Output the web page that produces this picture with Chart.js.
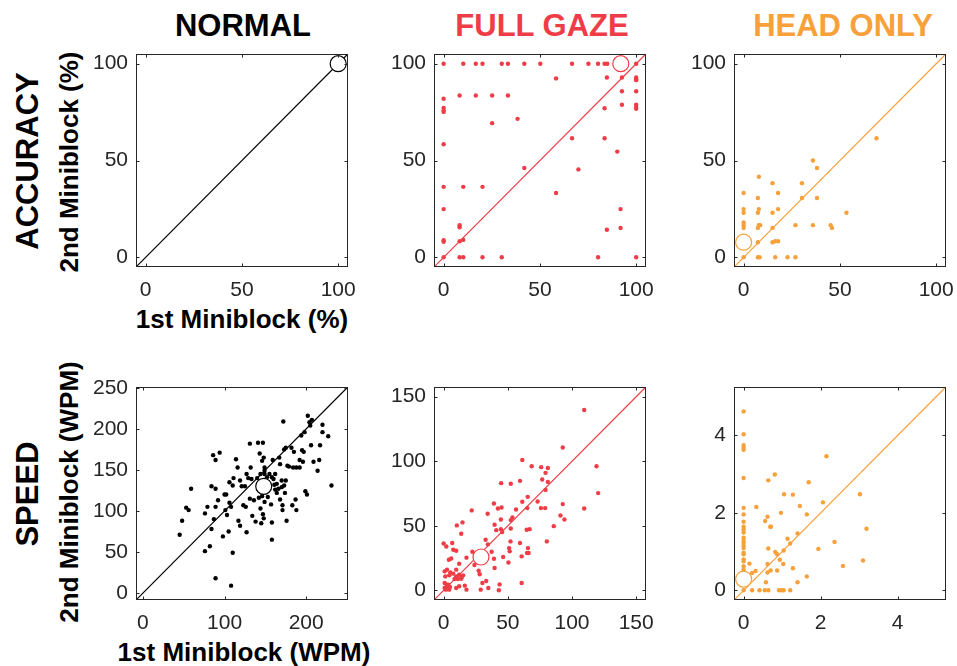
<!DOCTYPE html>
<html lang="en">
<head>
  <meta charset="UTF-8" />
  <title>Miniblock comparison</title>
  <script src="https://cdn.jsdelivr.net/npm/chart.js"></script>
  <style>
    body { margin: 0; background: #fff; }
    #fig { position: relative; width: 957px; height: 666px; overflow: hidden; background: #fff; }
    #fig canvas { position: absolute; }
    .lbl {
      position: absolute;
      font-family: 'Liberation Sans', Arial, sans-serif;
      font-weight: bold;
      white-space: nowrap;
      line-height: 1;
      color: #000;
      transform: translate(-50%, -50%);
    }
    .rot { transform: translate(-50%, -50%) rotate(-90deg); }
    .head { font-size: 31px; }
    .axt { font-size: 26px; }
  </style>
</head>
<body>
  <div id="fig">
    <div class="lbl head" style="left:243px; top:25px;">NORMAL</div>
    <div class="lbl head" style="left:542px; top:25px; color:#EE3D46;">FULL GAZE</div>
    <div class="lbl head" style="left:843px; top:25px; color:#F8A03A;">HEAD ONLY</div>
    <div class="lbl head rot" style="left:27px; top:161px;">ACCURACY</div>
    <div class="lbl head rot" style="left:27px; top:494px;">SPEED</div>
    <div class="lbl axt rot" style="left:69px; top:162px;">2nd Miniblock (%)</div>
    <div class="lbl axt rot" style="left:69px; top:492px;">2nd Miniblock (WPM)</div>
    <div class="lbl axt" style="left:242px; top:319px;">1st Miniblock (%)</div>
    <div class="lbl axt" style="left:244px; top:652px;">1st Miniblock (WPM)</div>

    <canvas id="c1" width="281" height="268" style="left:76px; top:44px;"></canvas>
    <canvas id="c2" width="281" height="268" style="left:374px; top:44px;"></canvas>
    <canvas id="c3" width="281" height="268" style="left:674px; top:44px;"></canvas>
    <canvas id="c4" width="281" height="268" style="left:76px; top:377px;"></canvas>
    <canvas id="c5" width="281" height="268" style="left:374px; top:377px;"></canvas>
    <canvas id="c6" width="281" height="268" style="left:674px; top:377px;"></canvas>
  </div>

  <script>
    const BLACK = '#000000';
    const RED = '#EE3D46';
    const ORANGE = '#F8A03A';

    // tick labels
    const accTicks = [0, 50, 100];
    const normSpeedTicksX = [0, 100, 200];
    const normSpeedTicksY = [0, 50, 100, 150, 200, 250];
    const gazeSpeedTicks = [0, 50, 100, 150];
    const headSpeedTicks = [0, 2, 4];

    // accuracy (%), 1st vs 2nd miniblock
    const normalAccX = [100];
    const normalAccY = [100];
    const normalAccMean = [100, 100];

    const gazeAccX = [0, 10.2, 16.7, 20.2, 30.2, 33.4, 41.9, 50.2, 66.7, 75.2, 80.2, 83.6, 85, 100,
      58.4, 84.8, 92.6, 100, 100, 100, 92.6, 100, 8.3, 16.7, 25.2, 33.4, 0,
      92.6, 100, 100, 100, 0, 0, 0,
      83.6, 38.4, 25.2, 66.7, 83.6, 0, 90.2, 41.9, 70.0,
      0, 10.2, 20.2, 58.4, 0, 91.9, 8.3, 8.3, 91.9, 84.8, 0, 0, 8.3, 10.2,
      0, 8.3, 10.2, 20.2, 30.2, 80.2, 100];
    const gazeAccY = [100, 100, 100, 100, 100, 100, 100, 100, 100, 100, 100, 100, 100, 100,
      92.4, 92.9, 92.9, 92.9, 92, 91.5, 85.8, 85.8, 83.6, 83.6, 83.6, 83.6, 81.9,
      78.8, 78.8, 77.6, 76.7, 77.2, 75.8, 75.1,
      77.0, 71.5, 69.3, 61.5, 61.5, 58.4, 54.6, 46.1, 45.4,
      36.4, 36.4, 36.4, 33.2, 24.9, 24.9, 16.6, 15.5, 15.2, 14.2, 8.8, 8.0, 8.3, 9.0,
      0, 0, 0, 0, 0, 0, 0];
    const gazeAccMean = [92, 100];

    const headAccX = [69.0, 36.0, 38.1, 7.9, 15.0, 30.3, 0, 17.9, 7.4, 30.3, 38.1, 0, 7.9, 17.9,
      0, 7.4, 15.0, 53.4, 0, 0, 0, 7.9, 8.6, 7.4, 15.0, 26.9, 36.0, 45.2, 45.9,
      7.4, 15.0, 16.4, 17.9, 0, 7.4, 8.3, 16.4, 22.8, 26.9];
    const headAccY = [61.5, 50, 46.1, 41.6, 38.3, 38.3, 33.2, 33.2, 30.6, 30.6, 30.6, 24.9, 24.9, 24.9,
      23.0, 23.0, 23.0, 23.0, 18.0, 16.6, 15.2, 16.6, 16.6, 15.2, 15.2, 16.6, 16.6, 16.6, 15.2,
      7.8, 7.8, 8.3, 8.3, 0, 0, 0, 0, 0, 0];
    const headAccMean = [0, 7.8];

    // speed (WPM)
    const normalSpeedX = [45, 48, 53, 56, 59, 76, 79, 76, 82, 84, 84, 86, 89, 94, 89, 87, 89, 92, 89, 98,
      100, 102, 101, 103, 105, 106, 106, 108, 108, 110, 110, 111, 114, 116, 117, 119, 119, 121, 123, 125,
      126, 127, 127, 129, 131, 131, 132, 133, 134, 136, 138, 141, 143, 144, 145, 146, 147, 147, 148, 148,
      146, 149, 149, 149, 149, 152, 153, 155, 157, 158, 158, 158, 159, 160, 161, 162, 162, 164, 164, 166,
      167, 168, 168, 170, 170, 171, 171, 172, 173, 173, 174, 175, 175, 176, 177, 179, 182, 183, 184, 185,
      187, 188, 188, 192, 192, 194, 195, 196, 197, 198, 199, 201, 202, 204, 206, 207, 209, 214, 216, 217,
      220, 220, 227, 231, 205, 140, 144, 151, 154, 142];
    const normalSpeedY = [71, 88, 104, 101, 127, 97, 105, 51, 57, 78, 130, 168, 162, 171, 127, 90, 105, 113, 18, 69,
      120, 120, 101, 95, 75, 135, 110, 105, 9, 49, 131, 140, 163, 153, 88, 82, 137, 130, 107, 130,
      105, 74, 145, 140, 182, 115, 153, 139, 94, 113, 87, 183, 170, 103, 85, 161, 183, 96, 91, 165,
      118, 153, 149, 111, 145, 141, 117, 145, 108, 86, 65, 141, 162, 139, 132, 145, 126, 133, 122, 127,
      165, 157, 114, 137, 129, 107, 101, 209, 175, 131, 122, 177, 137, 88, 155, 154, 177, 107, 153, 172,
      114, 153, 101, 162, 153, 192, 174, 160, 172, 196, 124, 120, 216, 208, 180, 211, 160, 149, 162, 180,
      205, 196, 191, 131, 204, 140, 145, 136, 131, 116];
    const normalSpeedMean = [148, 130];

    const gazeSpeedX = [109.5, 92.8, 61.3, 68.6, 76.0, 81.2, 79.4, 119.1, 76.8, 81.2,
      59.5, 44.8, 52.3, 79.4, 120.4, 65.5, 73.2, 39.2, 61.3, 92.8,
      109.5, 75.8, 79.1, 65.2, 42.3, 45.1, 56.4, 21.9, 34.3, 91.0,
      94.1, 53.6, 52.3, 44.6, 14.7, 10.3, 39.7, 85.8, 67.0, 64.7,
      44.6, 41.0, 45.6, 52.3, 13.7, 32.7, 80.4, 52.1, 59.5, 0,
      6.7, 2.1, 34.5, 65.7, 51.0, 7.5, 9.8, 51.5, 22.4, 37.4,
      65.0, 66.2, 4.1, 5.9, 17.8, 39.2, 46.4, 60.8, 50.5, 12.1,
      24.0, 39.7, 27.3, 28.1, 0.8, 2.6, 5.2, 7.5, 9.8, 11.1,
      14.2, 12.1, 15.2, 4.4, 1.3, 8.5, 16.5, 9.8, 12.1, 17.8,
      33.2, 30.2, 28.9, 34.8, 43.6, 43.0, 60.8, 0.8, 2.3, 3.1,
      0.8, 1.8, 4.4, 3.6, 4.9, 9.8, 13.7];
    const gazeSpeedY = [139.7, 110.6, 101.0, 96.1, 95.4, 94.8, 91.0, 96.1, 85.8, 84.0,
      84.8, 83.0, 82.5, 77.8, 75.3, 72.4, 68.8, 67.3, 68.6, 66.8,
      63.4, 63.7, 63.7, 63.7, 63.4, 64.2, 62.6, 61.9, 59.3, 58.0,
      54.9, 56.4, 54.4, 54.9, 52.6, 50.3, 50.8, 49.7, 47.4, 46.9,
      47.4, 46.6, 45.1, 47.9, 43.8, 39.2, 37.9, 37.9, 36.6, 36.3,
      36.6, 34.0, 35.6, 32.7, 32.7, 31.4, 30.7, 30.2, 29.9, 29.9,
      28.9, 28.9, 23.7, 24.7, 25.3, 24.5, 25.8, 26.3, 21.6, 20.6,
      19.6, 17.3, 15.2, 12.4, 14.7, 16.0, 13.9, 12.9, 10.8, 8.8,
      10.3, 12.1, 11.6, 11.6, 10.8, 8.8, 3.6, 1.8, 3.1, 0.5,
      7.2, 5.7, 0.5, 1.8, 4.6, 0, 5.7, 5.7, 4.4, 3.1,
      1.8, 0.5, 0.5, 4.4, 2.6, 16.0, 9.0];
    const gazeSpeedMean = [29.1, 25.8];

    const headSpeedX = [0, 0, 0, 0, 0, 0, 0, 0, 0, 0, 0, 0, 0, 0, 0, 0, 0, 0, 0, 0, 0, 0, 0, 0, 0,
      0.15, 0.22, 0.31, 0.33, 0.22, 0.41, 0.55, 0.64, 0.56, 0.62, 0.64, 0.64, 0.62, 0.62, 0.58,
      0.70, 0.69, 0.71, 0.81, 0.82, 0.87, 0.87, 0.94, 0.97, 0.92, 0.99, 1.04, 1.03, 1.04, 1.05,
      1.14, 1.21, 1.21, 1.28, 1.28, 1.40, 1.40, 1.46, 1.64, 1.64, 1.69, 1.94, 2.06, 2.15, 2.36, 2.58,
      3.02, 3.10, 3.19];
    const headSpeedY = [4.62, 4.03, 3.75, 3.69, 3.63, 2.90, 2.13, 1.96, 1.77, 1.64, 1.57, 1.49, 1.36,
      1.28, 1.23, 1.15, 1.09, 0.97, 0.93, 0.80, 0.75, 0.62, 0.53, 0.36, 0,
      0.69, 0.45, 0.50, 2.15, 0, 0, 0, 0, 1.79, 1.90, 2.84, 1.08, 0.68, 0.46, 0.21,
      0.51, 1.64, 1.64, 2.99, 0.99, 0.93, 0.51, 0.79, 2.00, 0, 0, 0, 0.68, 1.03, 2.48,
      1.33, 1.21, 0, 2.47, 0.57, 0.21, 1.47, 2.18, 1.96, 0.36, 2.79, 1.07, 2.27, 3.46, 1.25, 0.63,
      2.48, 0.77, 1.59];
    const headSpeedMean = [0, 0.29];

    const AXIS = '#262626';
    const tickFont = { family: "'Liberation Sans', Arial, sans-serif", size: 21 };

    // box around the axes with inward ticks on all four sides
    const framePlugin = {
      id: 'frame',
      afterDraw(chart) {
        const { ctx, chartArea: a, scales } = chart;
        const L = Math.round(a.left) + 0.5, R = Math.round(a.right) - 0.5;
        const T = Math.round(a.top) + 0.5, B = Math.round(a.bottom) - 0.5;
        ctx.save();
        ctx.strokeStyle = AXIS;
        ctx.lineWidth = 1;
        ctx.strokeRect(L, T, R - L, B - T);
        ctx.beginPath();
        scales.x.ticks.forEach(t => {
          const px = Math.round(scales.x.getPixelForValue(t.value)) + 0.5;
          ctx.moveTo(px, B); ctx.lineTo(px, B - 3);
          ctx.moveTo(px, T); ctx.lineTo(px, T + 3);
        });
        scales.y.ticks.forEach(t => {
          const py = Math.round(scales.y.getPixelForValue(t.value)) + 0.5;
          ctx.moveTo(L, py); ctx.lineTo(L + 3, py);
          ctx.moveTo(R, py); ctx.lineTo(R - 3, py);
        });
        ctx.stroke();
        ctx.restore();
      }
    };

    function zip(xs, ys) {
      return xs.map((x, i) => ({ x: x, y: ys[i] }));
    }

    function makePanel(id, xs, ys, mean, color, min, max, ticksX, ticksY) {
      return new Chart(document.getElementById(id), {
        type: 'scatter',
        data: {
          datasets: [
            {
              data: [{ x: mean[0], y: mean[1] }],
              pointRadius: 8, pointHoverRadius: 8,
              pointBackgroundColor: '#ffffff', pointBorderColor: color, pointBorderWidth: 1.2,
              order: 0, clip: 12
            },
            {
              data: zip(xs, ys),
              pointRadius: 2.2, pointHoverRadius: 2.2,
              pointBackgroundColor: color, pointBorderWidth: 0,
              order: 1, clip: 6
            },
            {
              data: [{ x: min, y: min }, { x: max, y: max }],
              showLine: true, borderColor: color, borderWidth: 1.2,
              pointRadius: 0, order: 2
            }
          ]
        },
        options: {
          responsive: false,
          animation: false,
          events: [],
          layout: { padding: { top: 10, right: 8, left: 0, bottom: 0 } },
          plugins: { legend: { display: false }, tooltip: { enabled: false } },
          scales: {
            x: {
              type: 'linear', min: min, max: max,
              afterBuildTicks: s => { s.ticks = ticksX.map(v => ({ value: v })); },
              afterFit: s => { s.height = 45; s.paddingLeft = 0; s.paddingRight = 0; },
              grid: { display: false, drawTicks: false },
              border: { display: false },
              ticks: { font: tickFont, color: AXIS, padding: 11, maxRotation: 0, autoSkip: false, callback: v => String(v) }
            },
            y: {
              type: 'linear', min: min, max: max,
              afterBuildTicks: s => { s.ticks = ticksY.map(v => ({ value: v })); },
              afterFit: s => { s.width = 60; s.paddingTop = 0; s.paddingBottom = 0; },
              grid: { display: false, drawTicks: false },
              border: { display: false },
              ticks: { font: tickFont, color: AXIS, padding: 8, autoSkip: false, callback: v => String(v) }
            }
          }
        },
        plugins: [framePlugin]
      });
    }

    makePanel('c1', normalAccX, normalAccY, normalAccMean, BLACK, -5, 105, accTicks, accTicks);
    makePanel('c2', gazeAccX, gazeAccY, gazeAccMean, RED, -5, 105, accTicks, accTicks);
    makePanel('c3', headAccX, headAccY, headAccMean, ORANGE, -5, 105, accTicks, accTicks);
    makePanel('c4', normalSpeedX, normalSpeedY, normalSpeedMean, BLACK, -8.5, 251, normSpeedTicksX, normSpeedTicksY);
    makePanel('c5', gazeSpeedX, gazeSpeedY, gazeSpeedMean, RED, -7.5, 157.5, gazeSpeedTicks, gazeSpeedTicks);
    makePanel('c6', headSpeedX, headSpeedY, headSpeedMean, ORANGE, -0.25, 5.25, headSpeedTicks, headSpeedTicks);
  </script>
</body>
</html>
